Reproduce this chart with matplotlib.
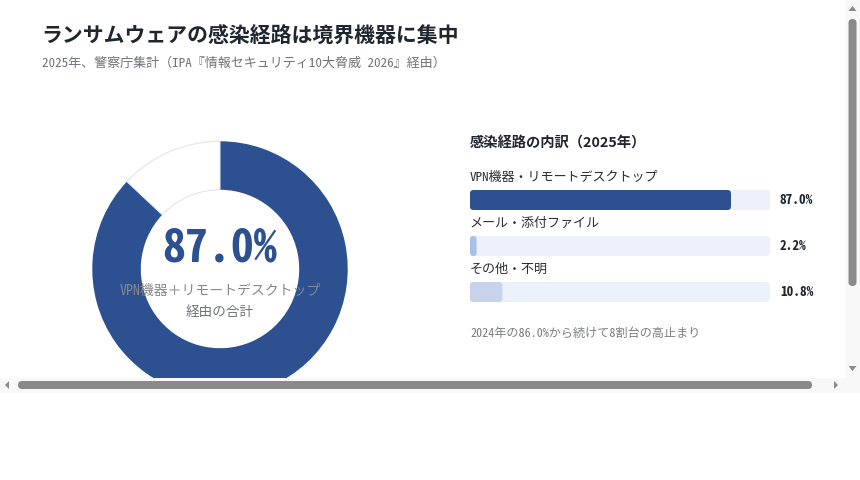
import matplotlib
matplotlib.use("Agg")
import matplotlib.pyplot as plt
from matplotlib.patches import Rectangle, FancyBboxPatch, Polygon

# データ
routes = ["VPN機器・リモートデスクトップ", "メール・添付ファイル", "その他・不明"]
shares = [87.0, 2.2, 10.8]
bar_colors = ["#2d5190", "#a9c1e8", "#c6d3ea"]
total_share = 87.0
prev_share = 86.0

JP = ["Noto Sans CJK JP", "DejaVu Sans"]
MONO = ["Noto Sans Mono CJK JP", "Noto Sans CJK JP", "DejaVu Sans"]
BLUE = "#2d5190"

W, H = 860, 480
fig = plt.figure(figsize=(W / 100, H / 100), dpi=100)
fig.patch.set_facecolor("white")

def px_axes(x0, y0, x1, y1):
    # ピクセル座標(左上原点)で軸を置く
    return fig.add_axes([x0 / W, 1 - y1 / H, (x1 - x0) / W, (y1 - y0) / H])

# ドーナツ
cx, cy, r_out, r_in = 220, 269, 129, 80
dax = px_axes(cx - r_out, cy - r_out, cx + r_out, cy + r_out)
wedges, _ = dax.pie([total_share, 100 - total_share], colors=[BLUE, "white"],
                    startangle=90, counterclock=False, radius=1,
                    wedgeprops=dict(width=1 - r_in / r_out, linewidth=0))
wedges[1].set_edgecolor("#dfe5ef"); wedges[1].set_linewidth(0.8)
dax.set_xlim(-1.01, 1.01); dax.set_ylim(-1.01, 1.01); dax.axis("off")

# ページ全体(テキスト用、ドーナツの上)
page = px_axes(0, 0, W, H)
page.set_xlim(0, W); page.set_ylim(H, 0); page.axis("off")

page.text(41, 36, "ランサムウェアの感染経路は境界機器に集中", family=JP, fontsize=15.0,
          fontweight="bold", color="#1f2630", va="center")
page.text(42, 63, "2025年、警察庁集計（IPA『情報セキュリティ10大脅威 2026』経由）",
          family=MONO, fontsize=9.4, color="#6f737a", va="center")

page.text(cx, 248, f"{total_share:.1f}%", family=MONO, fontsize=33, fontweight="bold",
          color=BLUE, ha="center", va="center")
page.text(cx, 291, "VPN機器＋リモートデスクトップ", family=MONO, fontsize=10,
          color="#85888d", ha="center", va="center")
page.text(cx, 312, "経由の合計", family=MONO, fontsize=9.8,
          color="#6f737a", ha="center", va="center")

# 右側の内訳
page.text(470, 144, "感染経路の内訳（2025年）", family=JP, fontsize=10.3,
          fontweight="bold", color="#1f2630", va="center")

bx0, bx1, by0, by1 = 470, 770, 160, 310
bax = px_axes(bx0, by0, bx1, by1)
bax.set_xlim(0, 100); bax.set_ylim(by1, by0); bax.axis("off")
asp = (bx1 - bx0) / 100.0  # px per x unit
rows = [200, 246, 292]
for name, v, c, yc in zip(routes, shares, bar_colors, rows):
    rs = 3.5 / asp
    bax.add_patch(FancyBboxPatch((0, yc - 10), 100, 20,
                                 boxstyle=f"round,pad=0,rounding_size={rs}",
                                 mutation_aspect=asp, fc="#edf1f9", ec="none"))
    rv = min(rs, v / 2)
    bax.add_patch(FancyBboxPatch((0, yc - 10), v, 20,
                                 boxstyle=f"round,pad=0,rounding_size={rv}",
                                 mutation_aspect=asp, fc=c, ec="none"))
    page.text(470, yc - 23, name, family=MONO, fontsize=9.4, color="#2a2e35", va="center")
    page.text(780, yc, f"{v:.1f}%", family=MONO, fontsize=9.6, fontweight="bold",
              color="#1f2630", va="center")

page.text(470, 333, f"2024年の{prev_share:.1f}%から続けて8割台の高止まり", family=MONO,
          fontsize=8.7, color="#7a7d83", va="center")

# スクロールバー(スクリーンショットの見た目)、ドーナツの下端もここで隠す
sb = px_axes(0, 0, W, H)
sb.set_xlim(0, W); sb.set_ylim(H, 0); sb.axis("off")
sb.add_patch(Rectangle((0, 378), 860, 102, fc="white", ec="none"))
sb.add_patch(Rectangle((845, 0), 15, 378, fc="#f8f8f8", ec="none"))
sb.add_patch(Rectangle((0, 378), 860, 15, fc="#f8f8f8", ec="none"))
sb.add_patch(FancyBboxPatch((848.5, 19), 8, 267, boxstyle="round,pad=0,rounding_size=4",
                            fc="#8a8a8a", ec="none"))
sb.add_patch(FancyBboxPatch((18, 381), 794, 8, boxstyle="round,pad=0,rounding_size=4",
                            fc="#8a8a8a", ec="none"))
arrow = "#8a8a8a"
sb.add_patch(Polygon([(848.5, 11), (856.5, 11), (852.5, 6)], fc=arrow, ec="none"))
sb.add_patch(Polygon([(848.5, 366), (856.5, 366), (852.5, 371)], fc=arrow, ec="none"))
sb.add_patch(Polygon([(9, 381), (9, 389), (5, 385)], fc=arrow, ec="none"))
sb.add_patch(Polygon([(834, 381), (834, 389), (838, 385)], fc=arrow, ec="none"))

fig.savefig("out.png", dpi=100, facecolor="white")
